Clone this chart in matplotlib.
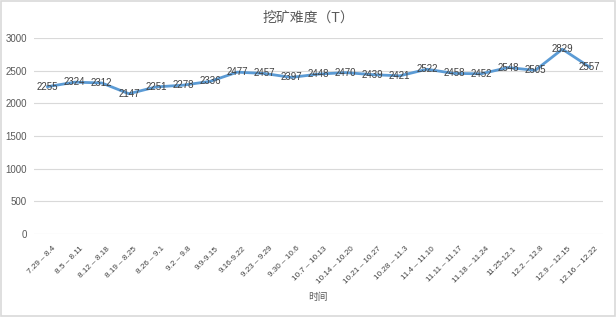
import matplotlib
matplotlib.use("Agg")
import matplotlib.pyplot as plt
from matplotlib.patches import Rectangle
from matplotlib.transforms import ScaledTranslation

plt.rcParams['font.family'] = ['Liberation Sans', 'Noto Sans CJK SC', 'DejaVu Sans']

categories = ["7.29 – 8.4", "8.5 – 8.11", "8.12 – 8.18", "8.19 – 8.25", "8.26 – 9.1",
              "9.2 – 9.8", "9.9-9.15", "9.16-9.22", "9.23 – 9.29", "9.30 – 10.6",
              "10.7 – 10.13", "10.14 – 10.20", "10.21 – 10.27", "10.28 – 11.3",
              "11.4 – 11.10", "11.11 – 11.17", "11.18 – 11.24", "11.25-12.1",
              "12.2 – 12.8", "12.9 – 12.15", "12.16 – 12.22"]
values = [2255, 2324, 2312, 2147, 2251, 2278, 2336, 2477, 2457, 2397, 2448,
          2470, 2439, 2421, 2522, 2458, 2452, 2548, 2505, 2829, 2557]
yticks = [0, 500, 1000, 1500, 2000, 2500, 3000]
title = "挖矿难度（T）"
xlabel = "时间"

fig = plt.figure(figsize=(6.16, 3.17), dpi=100)
fig.patch.set_facecolor('white')
fig.patches.append(Rectangle((0.001, 0.002), 0.997, 0.995, transform=fig.transFigure,
                             fill=False, edgecolor='#D9D9D9', linewidth=1.2))

ax = fig.add_axes([34/616, (317-234)/317, (603-34)/616, 196/317])
x = list(range(len(values)))
ax.plot(x, values, color='#5B9BD5', linewidth=2.0, solid_joinstyle='round', zorder=3)
for xi, v in zip(x, values):
    ax.text(xi, v, str(v), ha='center', va='center', fontsize=7, color='#404040', zorder=4)

ax.set_xlim(-0.5, len(values) - 0.5)
ax.set_ylim(0, 3000)
ax.set_yticks(yticks)
ax.set_yticklabels([str(t) for t in yticks], fontsize=7, color='#595959')
ax.yaxis.grid(True, color='#D9D9D9', linewidth=0.8)
ax.set_axisbelow(True)
for s in ax.spines.values():
    s.set_visible(False)
ax.tick_params(axis='both', length=0)
ax.tick_params(axis='y', pad=5)
ax.set_xticks(x)
ax.set_xticklabels(categories, rotation=45, ha='right', va='top', rotation_mode='anchor',
                   fontsize=5.9, color='#404040')
ax.tick_params(axis='x', pad=8)
shift = ScaledTranslation(5/100, 0, fig.dpi_scale_trans)
for lbl in ax.get_xticklabels():
    lbl.set_transform(lbl.get_transform() + shift)

fig.text(0.5, 1 - 18/317, title, ha='center', va='center', fontsize=10, color='#595959')
fig.text(318/616, 1 - 297/317, xlabel, ha='center', va='center', fontsize=7, color='#595959')

fig.savefig('out.png', dpi=100)
